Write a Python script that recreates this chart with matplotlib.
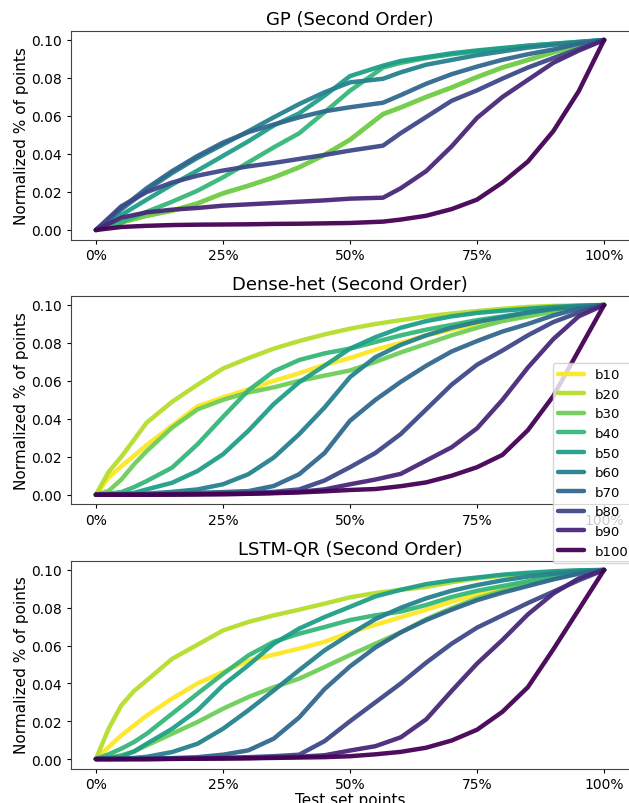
import matplotlib
matplotlib.use("Agg")
import matplotlib.pyplot as plt
from matplotlib.ticker import FuncFormatter

labels = ["b10", "b20", "b30", "b40", "b50", "b60", "b70", "b80", "b90", "b100"]

# ---------- GP (Second Order) ----------
gp_x = [0, 5, 10, 15, 20, 25, 30, 35, 40, 45, 50, 56.5, 60, 65, 70, 75, 80, 85, 90, 95, 100]
gp_b30 = [0, .004, .0075, .0102, .014, .0193, .0233, .0277, .033, .0396, .0475, .061, .0645, .070, .075, .0805, .0855, .0895, .0935, .097, .100]
gp_b10 = gp_b30
gp_b20 = gp_b30
gp_b40 = [0, .004, .0096, .0149, .0207, .0277, .0356, .0435, .0509, .062, .0733, .0855, .088, .0905, .0925, .094, .0955, .097, .098, .099, .100]
gp_b50 = [0, .0079, .016, .0239, .0313, .039, .0467, .055, .0614, .0707, .081, .0865, .089, .091, .093, .0945, .0958, .097, .098, .099, .100]
gp_b60 = [0, .0108, .021, .030, .038, .045, .052, .0593, .0663, .0725, .0777, .0796, .083, .087, .0895, .092, .094, .096, .0975, .0988, .100]
gp_b70 = [0, .0115, .022, .031, .039, .046, .0515, .0555, .0593, .0625, .0646, .067, .071, .077, .082, .086, .0896, .0925, .095, .098, .100]
gp_b80 = [0, .0125, .020, .025, .0286, .0313, .0335, .0353, .0374, .0395, .0418, .0444, .051, .0595, .068, .0735, .0797, .0855, .0905, .0953, .100]
gp_b90 = [0, .0065, .0093, .0107, .0116, .0128, .0135, .0142, .0149, .0156, .0165, .017, .022, .031, .044, .059, .070, .079, .088, .0944, .100]
gp_b100 = [0, .0016, .0022, .0026, .0028, .0029, .003, .0032, .0033, .0035, .0037, .0044, .0055, .0075, .011, .016, .025, .036, .052, .073, .100]

# ---------- Dense-het (Second Order) ----------
dh_x = [0, 2.5, 5, 7.5, 10, 15, 20, 25, 30, 35, 40, 45, 50, 55, 60, 65, 70, 75, 80, 85, 90, 95, 100]
dh_b10 = [0, .009, .015, .0205, .0262, .0364, .0466, .0513, .0555, .060, .064, .0685, .072, .0765, .080, .084, .087, .090, .0923, .0943, .097, .099, .100]
dh_b20 = [0, .012, .020, .029, .038, .049, .058, .0665, .072, .077, .081, .0845, .0875, .090, .092, .094, .0955, .0968, .098, .099, .0995, .0998, .100]
dh_b30 = [0, .002, .008, .016, .023, .0354, .045, .050, .0539, .0566, .060, .0628, .0655, .070, .075, .0795, .084, .088, .0915, .094, .0965, .0985, .100]
dh_b40 = [0, .0005, .0014, .004, .0072, .0143, .0266, .041, .055, .065, .071, .0745, .077, .0805, .084, .087, .0895, .092, .094, .096, .0978, .099, .100]
dh_b50 = [0, .0002, .0005, .001, .0028, .0063, .0125, .0213, .0337, .0478, .0593, .068, .077, .083, .088, .0915, .094, .0958, .097, .098, .099, .0996, .100]
dh_b60 = [0, 0, .0001, .0003, .0006, .0015, .0028, .0055, .0108, .0196, .0319, .046, .062, .0725, .079, .084, .088, .091, .0935, .096, .098, .0993, .100]
dh_b70 = [0, 0, 0, .0001, .0002, .0005, .001, .0014, .0019, .0046, .0108, .022, .039, .050, .0595, .068, .0755, .081, .086, .090, .0945, .098, .100]
dh_b80 = [0, 0, 0, 0, .0001, .0002, .0004, .0007, .001, .0015, .0028, .0075, .0145, .022, .032, .045, .058, .0685, .076, .084, .091, .096, .100]
dh_b90 = [0, 0, 0, 0, 0, .0001, .0002, .0003, .0005, .001, .0015, .0028, .0055, .008, .011, .018, .025, .035, .050, .067, .082, .094, .100]
dh_b100 = [0, 0, 0, 0, 0, .0001, .0002, .0003, .0005, .0008, .0012, .0018, .0025, .003, .0045, .0065, .010, .0145, .021, .034, .052, .076, .100]

# ---------- LSTM-QR (Second Order) ----------
lq_x = [0, 2.5, 5, 7.5, 10, 15, 20, 25, 30, 35, 40, 45, 50, 55, 60, 65, 70, 75, 80, 85, 90, 95, 100]
lq_b10 = [0, .0063, .0125, .0178, .023, .032, .040, .046, .052, .0552, .0584, .062, .067, .071, .075, .079, .0832, .087, .0905, .094, .097, .099, .100]
lq_b20 = [0, .016, .0284, .036, .0416, .053, .0605, .068, .0725, .076, .079, .0822, .0855, .0878, .0895, .091, .0935, .0955, .097, .098, .099, .0997, .100]
lq_b30 = [0, .0008, .002, .004, .0072, .0134, .0196, .0266, .0328, .038, .0425, .0487, .055, .061, .067, .074, .0798, .085, .089, .0925, .0955, .0985, .100]
lq_b40 = [0, .0025, .0055, .009, .0134, .024, .0346, .045, .0548, .062, .0663, .0698, .0735, .076, .078, .0815, .0857, .089, .0915, .094, .0965, .0988, .100]
lq_b50 = [0, .0006, .0014, .004, .0081, .016, .0258, .039, .0496, .061, .069, .0751, .0805, .086, .0895, .0925, .0945, .096, .0975, .0985, .0993, .0998, .100]
lq_b60 = [0, 0, .0002, .0006, .0012, .0037, .0081, .016, .0258, .0363, .047, .0575, .066, .074, .080, .085, .089, .092, .0945, .0965, .098, .0993, .100]
lq_b70 = [0, 0, 0, .0001, .0002, .0005, .001, .0023, .0046, .0108, .022, .037, .049, .059, .067, .0735, .079, .084, .088, .0915, .095, .098, .100]
lq_b80 = [0, 0, 0, 0, 0, .0002, .0004, .0007, .001, .0015, .0023, .0095, .020, .030, .040, .051, .061, .0695, .076, .0825, .0885, .0945, .100]
lq_b90 = [0, 0, 0, 0, 0, .0001, .0002, .0003, .0005, .0008, .0012, .002, .0045, .0068, .0115, .021, .036, .0505, .063, .0765, .0875, .0955, .100]
lq_b100 = [0, 0, 0, 0, 0, .0001, .0002, .0003, .0004, .0006, .0008, .001, .0015, .0025, .0038, .006, .0098, .0155, .025, .038, .058, .079, .100]

panels = [
    ("GP (Second Order)", gp_x,
     [gp_b10, gp_b20, gp_b30, gp_b40, gp_b50, gp_b60, gp_b70, gp_b80, gp_b90, gp_b100]),
    ("Dense-het (Second Order)", dh_x,
     [dh_b10, dh_b20, dh_b30, dh_b40, dh_b50, dh_b60, dh_b70, dh_b80, dh_b90, dh_b100]),
    ("LSTM-QR (Second Order)", lq_x,
     [lq_b10, lq_b20, lq_b30, lq_b40, lq_b50, lq_b60, lq_b70, lq_b80, lq_b90, lq_b100]),
]

W, H = 629, 804
fig = plt.figure(figsize=(W / 100, H / 100), dpi=100)
cmap = plt.get_cmap("viridis")
colors = [cmap(1 - i / 9) for i in range(10)]

# axes boxes in pixels: (left, top, right, bottom)
boxes = [(70.5, 31.5, 629.5, 240.5), (70.5, 296.5, 629.5, 505.2), (70.5, 561.5, 629.5, 769.5)]

pct = FuncFormatter(lambda v, p: f"{v:.0f}%")
handles = []
for (title, xs, series), (l, t, r, b) in zip(panels, boxes):
    ax = fig.add_axes([l / W, 1 - b / H, (r - l) / W, (b - t) / H])
    hs = []
    for lab, ys, c in zip(labels, series, colors):
        h, = ax.plot(xs, ys, color=c, lw=3.2, alpha=0.95, label=lab,
                     solid_capstyle="round", solid_joinstyle="round")
        hs.append(h)
    handles = hs
    ax.set_xlim(-5, 105)
    ax.set_ylim(-0.005, 0.105)
    ax.set_xticks([0, 25, 50, 75, 100])
    ax.xaxis.set_major_formatter(pct)
    ax.set_yticks([0, 0.02, 0.04, 0.06, 0.08, 0.10])
    ax.set_yticklabels([f"{v:.2f}" for v in [0, 0.02, 0.04, 0.06, 0.08, 0.10]])
    ax.tick_params(labelsize=10, length=3, pad=3)
    for s in ax.spines.values():
        s.set_color("#444444")
    ax.set_title(title, fontsize=13, pad=5)
    ax.set_ylabel("Normalized % of points", fontsize=11, labelpad=2)
    if title.startswith("LSTM"):
        ax.set_xlabel("Test set points", fontsize=11, labelpad=1)

fig.legend(handles, labels, loc="upper left", bbox_to_anchor=(552.7 / W, 1 - 364 / H),
           borderaxespad=0, fontsize=9.5)

fig.savefig("out.png", dpi=100)
